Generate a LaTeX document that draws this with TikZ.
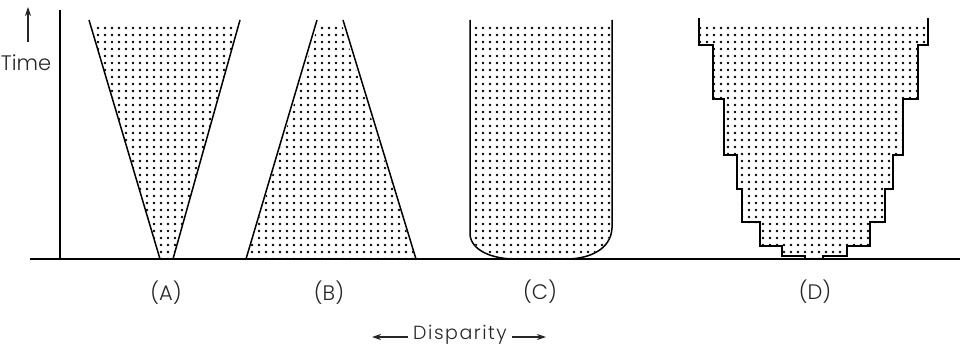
\documentclass[tikz,border=0pt]{standalone}
\usepackage{fontspec}
\setmainfont{Poppins}[UprightFont=* Light]
\usetikzlibrary{arrows.meta,patterns.meta}
\newcommand{\dispSpaced}[1]{{\addfontfeatures{LetterSpace=8}#1}}

\begin{document}
\begin{tikzpicture}[x=1pt,y=-1pt,
  edge/.style={line width=1.5pt, line join=miter},
  axisline/.style={line width=1.9pt},
  dotfill/.style={pattern={Dots[distance=7pt,radius=1.35pt]}, pattern color=black},
  lbl/.style={font=\fontsize{21}{21}\selectfont, text=black!85, inner sep=0pt},
  tip/.style={-{Stealth[length=9pt,width=6pt]}, line width=1.1pt, draw=black!85, fill=black!85}]
\useasboundingbox (0,0) rectangle (966,350);
\draw[axisline] (60,10) -- (60,259);
\draw[axisline] (30,259) -- (960,259);
\fill[dotfill] (91,25) -- (160,258) -- (173,258) -- (239,25) -- cycle;
\draw[edge] (89,20) -- (160,259) -- (173,259) -- (240,20);
\fill[dotfill] (247,258) -- (318,25) -- (342,25) -- (415,258) -- cycle;
\draw[edge] (246,259) -- (317,20);
\draw[edge] (343,20) -- (416,259);
\fill[dotfill] (471,25) -- (471,235) .. controls (473,251) and (495,258) .. (515,258) -- (566,258) .. controls (590,258) and (610,248) .. (611,228) -- (611,25) -- cycle;
\draw[edge] (470,20) -- (470,235) .. controls (472,252) and (495,259) .. (515,259) -- (566,259) .. controls (590,259) and (611,249) .. (612,228) -- (612,20);
\fill[dotfill] (700,25) -- (700,46) -- (714,46) -- (714,100) -- (725,100) -- (725,156) -- (738,156) -- (738,190) -- (743,190) -- (743,223) -- (761,223) -- (761,247) -- (783,247) -- (783,257) -- (806,257) -- (806,258) -- (822,258) -- (822,257) -- (846,257) -- (846,247) -- (869,247) -- (869,223) -- (884,223) -- (884,190) -- (892,190) -- (892,156) -- (902,156) -- (902,100) -- (917,100) -- (917,46) -- (927,46) -- (927,25) -- cycle;
\draw[edge] (699,18) -- (699,45) -- (713,45) -- (713,99) -- (724,99) -- (724,155) -- (737,155) -- (737,189) -- (742,189) -- (742,222) -- (760,222) -- (760,246) -- (782,246) -- (782,256) -- (805,256) -- (805,259) -- (823,259) -- (823,256) -- (847,256) -- (847,246) -- (870,246) -- (870,222) -- (885,222) -- (885,189) -- (893,189) -- (893,155) -- (903,155) -- (903,99) -- (918,99) -- (918,45) -- (928,45) -- (928,18);
\node[lbl] (labA) at (166,293) {(A)};
\node[lbl] (labB) at (329,293) {(B)};
\node[lbl] (labC) at (540,292) {(C)};
\node[lbl] (labD) at (815,292) {(D)};
\node[lbl] (time) at (26,63) {Time};
\coordinate (timeBot) at (28,42);
\coordinate (timeTop) at (28,7);
\draw[tip] (timeBot) -- (timeTop);
\node[lbl, font=\fontsize{19}{19}\selectfont] (disp) at (460,335) {\dispSpaced{Disparity}};
\coordinate (dispL) at (372,337);
\coordinate (dispR) at (546,337);
\draw[tip, shorten <=5pt] (disp.west |- dispL) -- (dispL);
\draw[tip, shorten <=5pt] (disp.east |- dispR) -- (dispR);
\end{tikzpicture}
\end{document}
